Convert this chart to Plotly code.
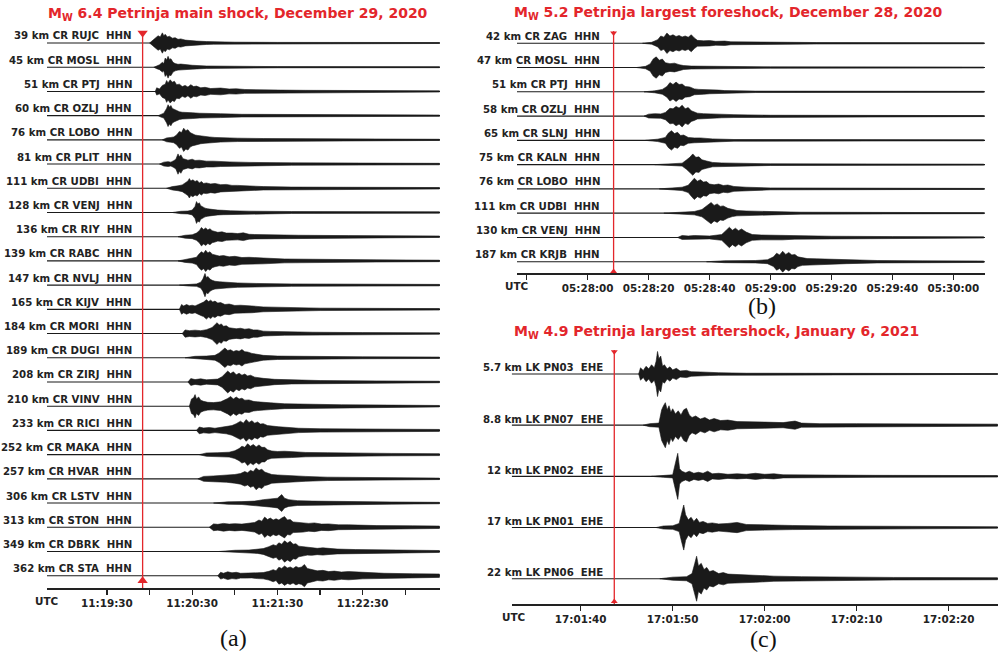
import plotly.graph_objects as go

W, H = 998, 656
RED = "#e3262b"
INK = "#1a1a1a"
FONT = "DejaVu Sans"

# ---------------- Panel (a): main shock ----------------
A_TITLE = "M<sub>W</sub> 6.4 Petrinja main shock, December 29, 2020"
A_LABELS = ["39 km CR RUJC  HHN", "45 km CR MOSL  HHN", "51 km CR PTJ  HHN", "60 km CR OZLJ  HHN",
            "76 km CR LOBO  HHN", "81 km CR PLIT  HHN", "111 km CR UDBI  HHN", "128 km CR VENJ  HHN",
            "136 km CR RIY  HHN", "139 km CR RABC  HHN", "147 km CR NVLJ  HHN", "165 km CR KIJV  HHN",
            "184 km CR MORI  HHN", "189 km CR DUGI  HHN", "208 km CR ZIRJ  HHN", "210 km CR VINV  HHN",
            "233 km CR RICI  HHN", "252 km CR MAKA  HHN", "257 km CR HVAR  HHN", "306 km CR LSTV  HHN",
            "313 km CR STON  HHN", "349 km CR DBRK  HHN", "362 km CR STA  HHN"]
A_TICKVALS = [0, 30, 60, 90, 120, 150, 180, 210]          # seconds after 11:19:30
A_TICKTEXT = ["11:19:30", "", "11:20:30", "", "11:21:30", "", "11:22:30", ""]
A_XRANGE = [-42.2, 234.4]
A_EVENT = 25.1
# envelope times (s after 11:19:30) and half-amplitudes (in trace spacings)
A_ENV_T = [
    [30, 32, 34, 36, 37.5, 39, 40, 41, 42.5, 44, 46, 48, 50, 52, 55, 58, 63, 70, 75, 90, 120, 234],
    [33, 35, 37, 39, 40, 41, 42, 43, 44, 45, 46.5, 48, 50, 52, 56, 60, 70, 90, 120, 234],
    [34, 35, 37, 39, 41, 42, 43, 44.5, 46, 47.5, 49, 51, 53, 55, 57, 59, 61, 63, 66, 69, 73, 80, 86, 91, 97, 103, 112, 122, 140, 157, 234],
    [36, 38, 40, 42, 43, 44, 45, 46, 47.5, 49, 51, 53, 56, 60, 65, 70, 75, 80, 95, 130, 234],
    [39, 42, 45, 47, 49, 51, 52.5, 54, 55.5, 57, 58.5, 60, 62, 64, 66, 69, 72, 76, 80, 92, 110, 150, 234],
    [37, 40, 43, 45, 47, 48.5, 50, 51, 52, 53.5, 55, 57, 60, 62, 65, 70, 75, 80, 86, 100, 130, 234],
    [42, 46, 50, 53, 55, 57, 58, 59, 60.5, 62, 63.5, 65, 66.5, 68, 70, 73, 76, 80, 84, 88, 92, 98, 110, 130, 160, 234],
    [46, 52, 57, 60, 62, 63, 64, 65, 66, 67.5, 69, 71, 74, 78, 82, 87, 100, 130, 234],
    [50, 55, 60, 63, 65, 66.5, 68, 69.5, 71, 72.5, 74, 76, 78, 81, 84, 88, 92, 96, 100, 104, 115, 135, 170, 234],
    [50, 55, 60, 63, 65, 66.5, 68, 69.5, 71, 72.5, 74, 76, 79, 82, 86, 90, 95, 100, 105, 110, 125, 150, 190, 234],
    [51, 58, 63, 66, 67.5, 69, 70, 71, 72.5, 74, 76, 79, 84, 92, 105, 130, 234],
    [51, 52.5, 54, 56, 58, 60, 62, 64, 66, 68, 70, 71.5, 73, 74.5, 76, 78, 80, 83, 86, 90, 94, 98, 102, 110, 125, 150, 234],
    [53, 55, 58, 62, 66, 70, 74, 76, 77.5, 79, 80.5, 82, 84, 86, 88, 91, 94, 97, 100, 103, 106, 110, 115, 125, 145, 180, 234],
    [55, 62, 70, 76, 79, 81, 83, 85, 87, 89, 91, 93, 95, 97, 99, 102, 105, 110, 120, 140, 180, 234],
    [57, 59, 62, 66, 70, 74, 78, 81, 83, 85, 87, 89, 91, 93, 95, 97, 99, 101, 104, 107, 110, 118, 130, 150, 190, 234],
    [58, 59.5, 61, 62, 63, 64.5, 66, 68, 71, 75, 80, 83, 85, 87, 89, 91, 93, 95, 97, 100, 103, 106, 110, 115, 125, 140, 165, 200, 234],
    [63, 65, 68, 72, 76, 80, 84, 88, 91, 94, 96, 98, 100, 102, 104, 106, 108, 110, 113, 117, 121, 126, 135, 150, 180, 234],
    [65, 70, 78, 86, 90, 93, 95, 97, 99, 101, 103, 105, 107, 109, 111, 113, 116, 120, 125, 130, 140, 155, 175, 200, 234],
    [64, 68, 75, 84, 90, 94, 97, 99, 101, 103, 105, 107, 109, 111, 113, 116, 120, 125, 130, 140, 155, 180, 234],
    [75, 85, 95, 104, 110, 116, 120, 123, 125, 128, 134, 145, 165, 200, 234],
    [72, 75, 78, 82, 86, 90, 95, 100, 104, 107, 109, 111, 113, 115, 117, 119, 121, 123, 125, 127, 129, 131, 134, 138, 142, 146, 151, 156, 163, 170, 180, 190, 215, 234],
    [79, 90, 100, 106, 110, 114, 117, 119, 121, 123, 125, 127, 129, 131, 133, 135, 138, 141, 144, 148, 152, 157, 162, 175, 200, 234],
    [78, 80, 82, 85, 88, 91, 94, 98, 102, 106, 110, 114, 117, 119, 121, 123, 125, 127, 129, 131, 133, 135, 137, 139, 141, 144, 148, 152, 156, 160, 165, 170, 180, 195, 215, 234],
]
A_ENV_A = [
    [0, 0.1, 0.18, 0.3, 0.25, 0.42, 0.3, 0.36, 0.25, 0.28, 0.2, 0.22, 0.15, 0.17, 0.12, 0.1, 0.08, 0.06, 0.05, 0.035, 0.025, 0.02],
    [0, 0.06, 0.1, 0.2, 0.15, 0.38, 0.3, 0.45, 0.32, 0.35, 0.2, 0.15, 0.12, 0.13, 0.09, 0.08, 0.05, 0.035, 0.025, 0.02],
    [0, 0.15, 0.1, 0.25, 0.3, 0.45, 0.35, 0.48, 0.38, 0.42, 0.28, 0.3, 0.2, 0.25, 0.18, 0.28, 0.2, 0.22, 0.15, 0.17, 0.12, 0.14, 0.1, 0.11, 0.08, 0.07, 0.06, 0.055, 0.045, 0.04, 0.025],
    [0, 0.06, 0.1, 0.3, 0.45, 0.35, 0.42, 0.3, 0.25, 0.2, 0.16, 0.14, 0.12, 0.12, 0.1, 0.1, 0.08, 0.08, 0.055, 0.04, 0.025],
    [0, 0.08, 0.1, 0.12, 0.2, 0.35, 0.3, 0.48, 0.38, 0.42, 0.3, 0.25, 0.2, 0.18, 0.16, 0.14, 0.12, 0.1, 0.09, 0.07, 0.055, 0.04, 0.025],
    [0, 0.08, 0.1, 0.08, 0.14, 0.2, 0.42, 0.3, 0.38, 0.22, 0.2, 0.16, 0.2, 0.15, 0.16, 0.12, 0.12, 0.1, 0.09, 0.07, 0.05, 0.03],
    [0, 0.07, 0.1, 0.14, 0.22, 0.3, 0.4, 0.3, 0.35, 0.28, 0.32, 0.22, 0.28, 0.2, 0.22, 0.18, 0.2, 0.15, 0.16, 0.12, 0.12, 0.1, 0.07, 0.05, 0.04, 0.03],
    [0, 0.05, 0.06, 0.1, 0.25, 0.45, 0.35, 0.4, 0.28, 0.22, 0.18, 0.15, 0.12, 0.1, 0.09, 0.07, 0.055, 0.04, 0.03],
    [0, 0.06, 0.08, 0.15, 0.25, 0.38, 0.3, 0.36, 0.28, 0.33, 0.25, 0.22, 0.18, 0.2, 0.15, 0.15, 0.13, 0.16, 0.1, 0.09, 0.07, 0.06, 0.045, 0.03],
    [0, 0.06, 0.09, 0.15, 0.3, 0.38, 0.32, 0.44, 0.33, 0.38, 0.28, 0.24, 0.2, 0.22, 0.17, 0.19, 0.14, 0.15, 0.12, 0.12, 0.08, 0.06, 0.045, 0.03],
    [0, 0.04, 0.05, 0.12, 0.25, 0.48, 0.3, 0.36, 0.25, 0.2, 0.16, 0.14, 0.12, 0.09, 0.07, 0.05, 0.03],
    [0, 0.2, 0.14, 0.2, 0.15, 0.17, 0.14, 0.2, 0.25, 0.3, 0.4, 0.32, 0.38, 0.3, 0.34, 0.26, 0.28, 0.2, 0.22, 0.16, 0.17, 0.14, 0.14, 0.1, 0.07, 0.05, 0.03],
    [0, 0.15, 0.12, 0.14, 0.12, 0.16, 0.25, 0.35, 0.45, 0.35, 0.4, 0.3, 0.32, 0.24, 0.22, 0.2, 0.22, 0.18, 0.2, 0.15, 0.15, 0.1, 0.09, 0.07, 0.055, 0.04, 0.03],
    [0, 0.06, 0.07, 0.1, 0.2, 0.3, 0.4, 0.3, 0.33, 0.26, 0.3, 0.27, 0.34, 0.25, 0.24, 0.18, 0.16, 0.1, 0.07, 0.055, 0.04, 0.03],
    [0, 0.14, 0.1, 0.13, 0.09, 0.1, 0.12, 0.22, 0.32, 0.45, 0.35, 0.42, 0.3, 0.36, 0.28, 0.33, 0.25, 0.28, 0.2, 0.17, 0.15, 0.11, 0.08, 0.06, 0.045, 0.03],
    [0, 0.3, 0.35, 0.48, 0.3, 0.38, 0.25, 0.2, 0.16, 0.15, 0.18, 0.25, 0.32, 0.4, 0.3, 0.38, 0.3, 0.33, 0.25, 0.26, 0.2, 0.18, 0.15, 0.14, 0.1, 0.08, 0.06, 0.045, 0.03],
    [0, 0.14, 0.1, 0.12, 0.09, 0.12, 0.14, 0.2, 0.28, 0.38, 0.3, 0.45, 0.33, 0.4, 0.3, 0.35, 0.26, 0.28, 0.2, 0.16, 0.15, 0.13, 0.09, 0.07, 0.05, 0.04],
    [0, 0.07, 0.08, 0.1, 0.16, 0.25, 0.35, 0.3, 0.45, 0.35, 0.42, 0.32, 0.4, 0.3, 0.3, 0.2, 0.15, 0.13, 0.14, 0.12, 0.09, 0.08, 0.06, 0.05, 0.04],
    [0, 0.1, 0.12, 0.14, 0.18, 0.22, 0.3, 0.25, 0.35, 0.3, 0.45, 0.35, 0.4, 0.28, 0.25, 0.18, 0.16, 0.14, 0.13, 0.1, 0.07, 0.05, 0.03],
    [0, 0.05, 0.06, 0.08, 0.14, 0.17, 0.2, 0.35, 0.2, 0.14, 0.1, 0.08, 0.06, 0.045, 0.03],
    [0, 0.14, 0.12, 0.16, 0.13, 0.15, 0.13, 0.16, 0.2, 0.3, 0.25, 0.42, 0.32, 0.38, 0.3, 0.35, 0.3, 0.38, 0.44, 0.3, 0.32, 0.22, 0.2, 0.2, 0.16, 0.18, 0.13, 0.14, 0.1, 0.1, 0.08, 0.07, 0.06, 0.05],
    [0, 0.05, 0.06, 0.08, 0.12, 0.2, 0.28, 0.24, 0.36, 0.3, 0.44, 0.35, 0.42, 0.3, 0.32, 0.22, 0.2, 0.15, 0.16, 0.13, 0.15, 0.12, 0.1, 0.08, 0.06, 0.04],
    [0, 0.14, 0.1, 0.16, 0.12, 0.14, 0.1, 0.1, 0.09, 0.12, 0.13, 0.18, 0.25, 0.2, 0.35, 0.3, 0.4, 0.32, 0.36, 0.3, 0.38, 0.33, 0.36, 0.46, 0.3, 0.26, 0.2, 0.22, 0.17, 0.19, 0.15, 0.17, 0.13, 0.1, 0.08, 0.07],
]

# ---------------- Panel (b): largest foreshock ----------------
B_TITLE = "M<sub>W</sub> 5.2 Petrinja largest foreshock, December 28, 2020"
B_LABELS = ["42 km CR ZAG  HHN", "47 km CR MOSL  HHN", "51 km CR PTJ  HHN", "58 km CR OZLJ  HHN",
            "65 km CR SLNJ  HHN", "75 km CR KALN  HHN", "76 km CR LOBO  HHN", "111 km CR UDBI  HHN",
            "130 km CR VENJ  HHN", "187 km CR KRJB  HHN"]
B_TICKVALS = [-20, 0, 20, 40, 60, 80, 100, 120]          # seconds after 05:28:00
B_TICKTEXT = ["", "05:28:00", "05:28:20", "05:28:40", "05:29:00", "05:29:20", "05:29:40", "05:30:00"]
B_XRANGE = [-23.2, 130.4]
B_EVENT = 8.5
B_ENV_T = [
    [18, 21, 23, 24, 25, 26, 27, 28, 29, 30, 31, 32, 33, 34, 35, 36, 38, 40, 42, 45, 47, 52, 58, 75, 130],
    [16, 19, 20.5, 21.5, 22.5, 23.5, 24.5, 25.5, 27, 28.5, 30, 31.5, 34, 37, 45, 60, 130],
    [18.5, 22, 24.5, 26, 27, 28, 29, 30, 31, 32, 33.5, 35, 36.5, 38, 40, 43, 45, 55, 130],
    [18.5, 20, 22, 24, 25.5, 27, 28, 29, 30, 31, 32, 33, 34, 35, 36, 38, 40, 44, 48, 60, 130],
    [19, 23, 25.5, 26.5, 27.5, 28.5, 29.5, 30.5, 31.5, 33, 35, 37, 41, 48, 130],
    [22, 28, 31, 32.5, 33.5, 34.5, 35.5, 36.5, 37.5, 39, 41, 44, 48, 60, 130],
    [23.5, 28, 31, 33, 34, 35, 36, 37, 38, 39, 40, 41.5, 43, 44.5, 46, 48, 52, 60, 130],
    [25, 30, 35, 37.5, 39, 40.5, 41.5, 42.5, 43.5, 44.5, 46, 47.5, 49, 52, 56, 62, 70, 130],
    [29.5, 31, 33, 35, 40, 44, 45.5, 46.5, 47.5, 48.5, 49.5, 50.5, 52, 54, 57, 60, 64, 68, 80, 100, 130],
    [39, 45, 55, 59, 61, 62, 63, 64, 65, 66, 67, 68, 69, 70.5, 72, 75, 78, 82, 85, 95, 110, 130],
]
B_ENV_A = [
    [0, 0.04, 0.15, 0.3, 0.25, 0.42, 0.3, 0.35, 0.28, 0.32, 0.26, 0.3, 0.25, 0.35, 0.22, 0.12, 0.1, 0.11, 0.08, 0.09, 0.06, 0.05, 0.04, 0.03, 0.02],
    [0, 0.05, 0.15, 0.35, 0.44, 0.3, 0.35, 0.2, 0.16, 0.18, 0.12, 0.08, 0.06, 0.06, 0.04, 0.03, 0.02],
    [0, 0.04, 0.1, 0.22, 0.38, 0.3, 0.4, 0.3, 0.32, 0.22, 0.2, 0.12, 0.1, 0.1, 0.08, 0.07, 0.05, 0.03, 0.02],
    [0, 0.08, 0.1, 0.09, 0.15, 0.32, 0.3, 0.4, 0.33, 0.45, 0.3, 0.35, 0.22, 0.18, 0.12, 0.1, 0.09, 0.07, 0.06, 0.035, 0.02],
    [0, 0.05, 0.12, 0.3, 0.4, 0.28, 0.33, 0.2, 0.22, 0.12, 0.1, 0.1, 0.06, 0.035, 0.02],
    [0, 0.04, 0.06, 0.2, 0.3, 0.44, 0.3, 0.32, 0.2, 0.15, 0.09, 0.07, 0.06, 0.035, 0.02],
    [0, 0.05, 0.07, 0.15, 0.3, 0.44, 0.32, 0.38, 0.28, 0.3, 0.2, 0.17, 0.2, 0.14, 0.16, 0.1, 0.07, 0.04, 0.02],
    [0, 0.05, 0.07, 0.15, 0.28, 0.44, 0.32, 0.38, 0.28, 0.3, 0.2, 0.14, 0.11, 0.09, 0.08, 0.06, 0.04, 0.02],
    [0, 0.08, 0.06, 0.08, 0.06, 0.12, 0.3, 0.42, 0.3, 0.38, 0.28, 0.35, 0.22, 0.12, 0.1, 0.09, 0.1, 0.07, 0.05, 0.035, 0.025],
    [0, 0.04, 0.05, 0.08, 0.2, 0.35, 0.28, 0.43, 0.3, 0.38, 0.28, 0.3, 0.2, 0.15, 0.13, 0.12, 0.11, 0.09, 0.08, 0.05, 0.035, 0.03],
]

# ---------------- Panel (c): largest aftershock ----------------
C_TITLE = "M<sub>W</sub> 4.9 Petrinja largest aftershock, January 6, 2021"
C_LABELS = ["5.7 km LK PN03  EHE", "8.8 km LK PN07  EHE", "12 km LK PN02  EHE",
            "17 km LK PN01  EHE", "22 km LK PN06  EHE"]
C_TICKVALS = [0, 10, 20, 30, 40]                          # seconds after 17:01:40
C_TICKTEXT = ["17:01:40", "17:01:50", "17:02:00", "17:02:10", "17:02:20"]
C_XRANGE = [-7.5, 45.36]
C_EVENT = 3.65
C_ENV_T = [
    [6.3, 6.5, 6.8, 7.1, 7.4, 7.7, 8.0, 8.2, 8.35, 8.5, 8.7, 8.9, 9.1, 9.4, 9.7, 10, 10.4, 10.8, 11.5, 12, 13, 14, 15, 18, 25, 45.3],
    [6.8, 7.5, 8.5, 8.8, 9.0, 9.2, 9.4, 9.6, 9.8, 10, 10.3, 10.6, 10.9, 11.2, 11.5, 11.8, 12.1, 12.5, 13, 13.5, 14, 14.5, 15.2, 16, 17, 18, 20, 22, 23.3, 24, 26, 30, 38, 45.3],
    [7.7, 9, 10, 10.35, 10.55, 10.75, 11, 11.4, 11.8, 12.3, 12.8, 13.3, 13.8, 14.3, 15, 16, 17, 18, 19, 20, 21, 22, 25, 32, 45.3],
    [8.2, 9, 10, 10.7, 11.0, 11.2, 11.4, 11.7, 12, 12.3, 12.6, 12.9, 13.3, 13.8, 14.3, 15, 16, 17, 18, 20, 23, 27, 35, 45.3],
    [8.6, 10, 11.5, 12.1, 12.4, 12.6, 12.8, 13.1, 13.4, 13.7, 14, 14.4, 15, 15.5, 16, 17, 19, 21, 24, 28, 34, 45.3],
]
C_ENV_A = [
    [0, 0.12, 0.07, 0.15, 0.1, 0.18, 0.12, 0.25, 0.44, 0.3, 0.35, 0.15, 0.18, 0.1, 0.14, 0.08, 0.11, 0.06, 0.07, 0.045, 0.04, 0.03, 0.025, 0.015, 0.01, 0.008],
    [0, 0.03, 0.04, 0.3, 0.38, 0.44, 0.3, 0.38, 0.25, 0.32, 0.22, 0.28, 0.2, 0.3, 0.33, 0.2, 0.15, 0.18, 0.12, 0.15, 0.1, 0.13, 0.09, 0.1, 0.07, 0.07, 0.06, 0.05, 0.08, 0.04, 0.03, 0.03, 0.025, 0.02],
    [0, 0.02, 0.03, 0.3, 0.45, 0.15, 0.1, 0.07, 0.1, 0.06, 0.08, 0.06, 0.1, 0.05, 0.06, 0.04, 0.05, 0.04, 0.06, 0.04, 0.05, 0.03, 0.025, 0.02, 0.015],
    [0, 0.03, 0.035, 0.08, 0.3, 0.44, 0.25, 0.15, 0.2, 0.12, 0.18, 0.1, 0.12, 0.08, 0.09, 0.07, 0.08, 0.1, 0.06, 0.05, 0.04, 0.03, 0.02, 0.015],
    [0, 0.03, 0.04, 0.1, 0.3, 0.44, 0.25, 0.3, 0.18, 0.22, 0.14, 0.16, 0.1, 0.12, 0.09, 0.08, 0.07, 0.05, 0.04, 0.03, 0.025, 0.02],
]


def pxx(x):
    return x / W


def pyy(y):
    return 1 - y / H


PANELS = [
    dict(key="", labels=A_LABELS, env_t=A_ENV_T, env_a=A_ENV_A, xr=A_XRANGE, ev=A_EVENT,
         tv=A_TICKVALS, tt=A_TICKTEXT, title=A_TITLE,
         xdom=(47, 440), ydom=(588, 20), yr=(-22 - 12.3 / 24.21, 23 / 24.21),
         lab_x=133.5, lab_dy=0.29, title_xy=(237.5, 14), letter="(a)", letter_xy=(233, 638),
         utc_xy=(46, 601), red_top=0.5, tri_top=0.41, tri_bot=-22.21, tri_size=(9, 9)),
    dict(key="2", labels=B_LABELS, env_t=B_ENV_T, env_a=B_ENV_A, xr=B_XRANGE, ev=B_EVENT,
         tv=B_TICKVALS, tt=B_TICKTEXT, title=B_TITLE,
         xdom=(517, 985), ydom=(273, 20), yr=(-9 - 11.3 / 24.3, 23.3 / 24.3),
         lab_x=602, lab_dy=0.29, title_xy=(728, 13), letter="(b)", letter_xy=(762, 306),
         utc_xy=(516, 286), red_top=0.5, tri_top=0.42, tri_bot=-9.4, tri_size=(6, 6)),
    dict(key="3", labels=C_LABELS, env_t=C_ENV_T, env_a=C_ENV_A, xr=C_XRANGE, ev=C_EVENT,
         tv=C_TICKVALS, tt=C_TICKTEXT, title=C_TITLE,
         xdom=(511.7, 998), ydom=(604.3, 345), yr=(-4.5, 29 / 51.2),
         lab_x=605, lab_dy=0.12, title_xy=(716.5, 331.5), letter="(c)", letter_xy=(763, 639),
         utc_xy=(513.5, 617), red_top=0.47, tri_top=0.435, tri_bot=-4.445, tri_size=(6, 6)),
]

fig = go.Figure()
annotations = []
layout_axes = {}

for P in PANELS:
    k = P["key"]
    xa, ya = "x" + k, "y" + k
    n = len(P["labels"])
    bx, by = [], []
    for i in range(n):
        bx += [P["xr"][0], P["xr"][1], None]
        by += [-i, -i, None]
    fig.add_trace(go.Scatter(x=bx, y=by, mode="lines", line=dict(color=INK, width=1.1),
                             xaxis=xa, yaxis=ya, hoverinfo="skip"))
    for i in range(n):
        t = P["env_t"][i]
        a = P["env_a"][i]
        assert len(t) == len(a), (P["labels"][i], len(t), len(a))
        xs = list(t) + list(t[::-1])
        ys = [-i + v for v in a] + [-i - v for v in a[::-1]]
        fig.add_trace(go.Scatter(x=xs, y=ys, mode="lines", fill="toself", fillcolor=INK,
                                 line=dict(color=INK, width=0.6), xaxis=xa, yaxis=ya,
                                 hoverinfo="skip"))
    ybot = P["yr"][0]
    fig.add_trace(go.Scatter(x=[P["ev"], P["ev"]], y=[P["red_top"], ybot], mode="lines",
                             line=dict(color=RED, width=1.3), xaxis=xa, yaxis=ya, hoverinfo="skip"))
    fig.add_trace(go.Scatter(x=[P["ev"]], y=[P["tri_top"]], mode="markers",
                             marker=dict(symbol="triangle-down", size=P["tri_size"][0], color=RED),
                             xaxis=xa, yaxis=ya, hoverinfo="skip"))
    fig.add_trace(go.Scatter(x=[P["ev"]], y=[P["tri_bot"]], mode="markers",
                             marker=dict(symbol="triangle-up", size=P["tri_size"][1], color=RED),
                             xaxis=xa, yaxis=ya, hoverinfo="skip"))

    xname = "xaxis" + k
    yname = "yaxis" + k
    layout_axes[xname] = dict(
        domain=[pxx(P["xdom"][0]), pxx(P["xdom"][1])], range=P["xr"], anchor=ya,
        showgrid=False, zeroline=False, showline=True, linecolor="#222", linewidth=1.5,
        ticks="outside", ticklen=5, tickwidth=1.3, tickcolor="#222",
        tickmode="array", tickvals=P["tv"], ticktext=P["tt"],
        tickfont=dict(family=FONT, size=10.4, color="#222", weight="bold"), fixedrange=True)
    layout_axes[yname] = dict(
        domain=[pyy(P["ydom"][0]), pyy(P["ydom"][1])], range=list(P["yr"]), anchor=xa,
        showgrid=False, zeroline=False, showline=False, showticklabels=False, ticks="",
        fixedrange=True)

    for i, lab in enumerate(P["labels"]):
        annotations.append(dict(text=lab.replace("  ", " \u00a0"), xref="paper", yref=ya,
                                x=pxx(P["lab_x"]), y=-i + P["lab_dy"], xanchor="right",
                                yanchor="middle", showarrow=False,
                                font=dict(family=FONT, size=10.2, color="#222", weight="bold")))
    annotations.append(dict(text=P["title"], xref="paper", yref="paper",
                            x=pxx(P["title_xy"][0]), y=pyy(P["title_xy"][1]),
                            xanchor="center", yanchor="middle", showarrow=False,
                            font=dict(family=FONT, size=14, color=RED, weight="bold")))
    annotations.append(dict(text="UTC", xref="paper", yref="paper",
                            x=pxx(P["utc_xy"][0]), y=pyy(P["utc_xy"][1]),
                            xanchor="center", yanchor="middle", showarrow=False,
                            font=dict(family=FONT, size=10.4, color="#222", weight="bold")))
    annotations.append(dict(text=P["letter"], xref="paper", yref="paper",
                            x=pxx(P["letter_xy"][0]), y=pyy(P["letter_xy"][1]),
                            xanchor="center", yanchor="middle", showarrow=False,
                            font=dict(family="Liberation Serif", size=24, color="#111")))

fig.update_layout(
    width=W, height=H, margin=dict(l=0, r=0, t=0, b=0),
    paper_bgcolor="white", plot_bgcolor="white", showlegend=False,
    annotations=annotations, **layout_axes)

fig.write_html("out.html", config={"displayModeBar": False, "staticPlot": True},
               post_script="document.body.style.margin='0';document.body.style.overflow='hidden';")
